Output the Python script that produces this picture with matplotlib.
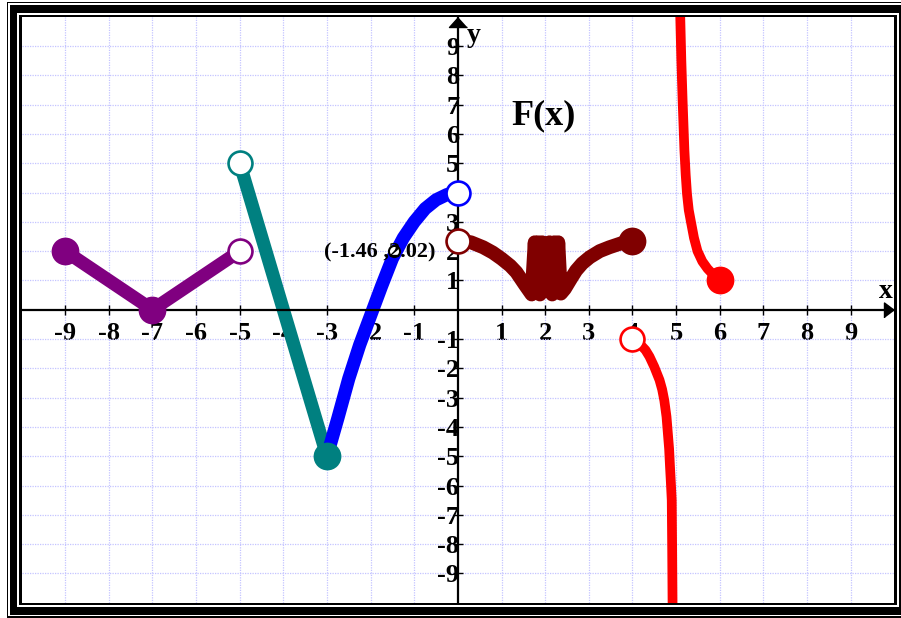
import numpy as np
import matplotlib.pyplot as plt
from matplotlib.patches import Rectangle

plt.rcParams['font.family'] = ['Liberation Serif', 'DejaVu Serif']
plt.rcParams['font.weight'] = 'bold'

W, H = 901, 618

# piece 1: purple V on [-9, -5)
purple_x = [-9, -7, -5]
purple_y = [2, 0, 2]

# piece 2: teal segment on (-5, -3]
teal_x = [-5, -3]
teal_y = [5, -5]

# piece 3: blue arc on (-3, 0)
blue_x = [-3, -2.75, -2.5, -2.25, -2, -1.75, -1.5, -1.25, -1, -0.75, -0.5, -0.25, 0]
blue_y = [-5, -3.7, -2.35, -1.2, -0.2, 0.8, 1.75, 2.45, 3.0, 3.45, 3.75, 3.93, 4.0]

# piece 4: dark red, with the jagged part around x = 2
maroon_x = [0, 0.3, 0.58, 0.8, 1.0, 1.2, 1.34, 1.53, 1.69,
            1.76, 1.80, 1.84, 1.88, 1.93, 1.98, 2.02, 2.06, 2.10, 2.16, 2.21, 2.26, 2.30,
            2.36, 2.45, 2.6, 2.71, 2.85, 3.02, 3.25, 3.47, 3.75, 4.0]
maroon_y = [2.36, 2.3, 2.13, 1.95, 1.74, 1.5, 1.28, 0.86, 0.52,
            2.3, 0.7, 2.3, 0.52, 2.3, 0.9, 2.2, 0.9, 2.3, 0.52, 2.3, 0.7, 2.3,
            0.55, 0.71, 1.08, 1.34, 1.58, 1.79, 2.0, 2.13, 2.27, 2.36]

# piece 5: red, two branches around x = 5
red_lo_x = [4.0, 4.1, 4.2, 4.3, 4.39, 4.5, 4.62, 4.68, 4.73, 4.78, 4.81, 4.84,
            4.86, 4.88, 4.9, 4.91, 4.92]
red_lo_y = [-1, -1.08, -1.22, -1.38, -1.6, -1.95, -2.4, -2.72, -3.1, -3.65, -4.2, -4.75,
            -5.35, -5.9, -6.5, -8.2, -10.3]
red_hi_x = [5.09, 5.12, 5.15, 5.19, 5.22, 5.25, 5.29, 5.34, 5.41, 5.49, 5.6, 5.72, 5.86, 6.0]
red_hi_y = [10.3, 8.5, 7.1, 5.45, 4.6, 3.95, 3.4, 3.0, 2.45, 2.0, 1.65, 1.4, 1.18, 1.0]

# labelled point on the blue arc
pt_x, pt_y = -1.46, 2.02

ticks = [-9, -8, -7, -6, -5, -4, -3, -2, -1, 1, 2, 3, 4, 5, 6, 7, 8, 9]

fig = plt.figure(figsize=(W / 100, H / 100), dpi=100)


def frame(x0, y0, x1, y1, color, z):
    fig.add_artist(Rectangle((x0 / W, 1 - y1 / H), (x1 - x0) / W, (y1 - y0) / H,
                             transform=fig.transFigure, facecolor=color,
                             edgecolor='none', zorder=z))


# double border
frame(6.7, 1.7, 910, 617.7, 'black', -10)
frame(8.3, 3.3, 910, 616.0, 'white', -9)
frame(10.0, 5.0, 910, 615.0, 'black', -8)
frame(17.3, 13.3, 898.9, 606.7, 'white', -7)
frame(19.3, 15.0, 896.7, 605.0, 'black', -6)

ax = fig.add_axes([21.5 / W, 1 - 602.7 / H, (894.3 - 21.5) / W, (602.7 - 16.7) / H])
ax.set_xlim(-10, 10)
ax.set_ylim(-10, 10)
ax.set_facecolor('white')

for s in ['top', 'right']:
    ax.spines[s].set_visible(False)
for s in ['left', 'bottom']:
    ax.spines[s].set_position(('data', 0))
    ax.spines[s].set_linewidth(1.6)

ax.set_xticks(ticks)
ax.set_yticks(ticks)
ax.set_xticklabels([str(t) for t in ticks])
ax.set_yticklabels([str(t) for t in ticks])
ax.tick_params(direction='inout', length=6.5, width=1.0, labelsize=19)
ax.tick_params(axis='x', pad=5.5)
ax.tick_params(axis='y', pad=-4.2)
for lab in ax.get_xticklabels() + ax.get_yticklabels():
    lab.set_fontweight('bold')

ax.grid(True, color='#c4c4ff', linestyle=(0, (1, 1)), linewidth=0.9)
ax.set_axisbelow(True)

# arrow heads on the axes
ax.plot(1, 0, color='black', marker=[(0, 0), (-1, 0.75), (-1, -0.75)], ms=14.4,
        transform=ax.get_yaxis_transform(), clip_on=False, zorder=3)
ax.plot(0, 1, color='black', marker=[(0, 0), (-0.9, -1), (0.9, -1)], ms=14.4,
        transform=ax.get_xaxis_transform(), clip_on=False, zorder=3)

ax.text(9.8, 0.62, 'x', fontsize=20, ha='center', va='center')
ax.text(0.37, 9.36, 'y', fontsize=20, ha='center', va='center')
ax.text(1.96, 6.6, 'F(x)', fontsize=26, ha='center', va='center')

# curves
ax.plot(purple_x, purple_y, color='#800080', lw=9.5, solid_capstyle='round', zorder=2)
ax.plot(teal_x, teal_y, color='#008080', lw=9.5, solid_capstyle='round', zorder=2)
ax.plot(blue_x, blue_y, color='#0000ff', lw=9.5, solid_capstyle='round', zorder=2)
ax.plot(maroon_x, maroon_y, color='#800000', lw=10, solid_capstyle='round', zorder=2)
ax.plot(red_lo_x, red_lo_y, color='#ff0000', lw=7, solid_capstyle='round', zorder=2)
ax.plot(red_hi_x, red_hi_y, color='#ff0000', lw=7, solid_capstyle='round', zorder=2)

# closed end points
closed = [(purple_x[0], purple_y[0], '#800080'),
          (purple_x[1], purple_y[1], '#800080'),
          (teal_x[1], teal_y[1], '#008080'),
          (maroon_x[-1], maroon_y[-1], '#800000'),
          (red_hi_x[-1], red_hi_y[-1], '#ff0000')]
for x, y, c in closed:
    ax.plot(x, y, 'o', color=c, ms=20, mew=0, zorder=4)

# open end points
opened = [(purple_x[-1], purple_y[-1], '#800080'),
          (teal_x[0], teal_y[0], '#008080'),
          (blue_x[-1], blue_y[-1], '#0000ff'),
          (maroon_x[0], maroon_y[0], '#800000'),
          (red_lo_x[0], red_lo_y[0], '#ff0000')]
for x, y, c in opened:
    ax.plot(x, y, 'o', mfc='white', mec=c, ms=17.2, mew=1.9, zorder=4)

ax.plot(pt_x, pt_y, 'o', mfc='white', mec='black', ms=8, mew=1.5, zorder=5)
ax.text(-1.78, 1.95, '({:.2f} ,{:.2f})'.format(pt_x, pt_y), fontsize=16,
        ha='center', va='center', zorder=6)

fig.savefig('out.png', dpi=100)
